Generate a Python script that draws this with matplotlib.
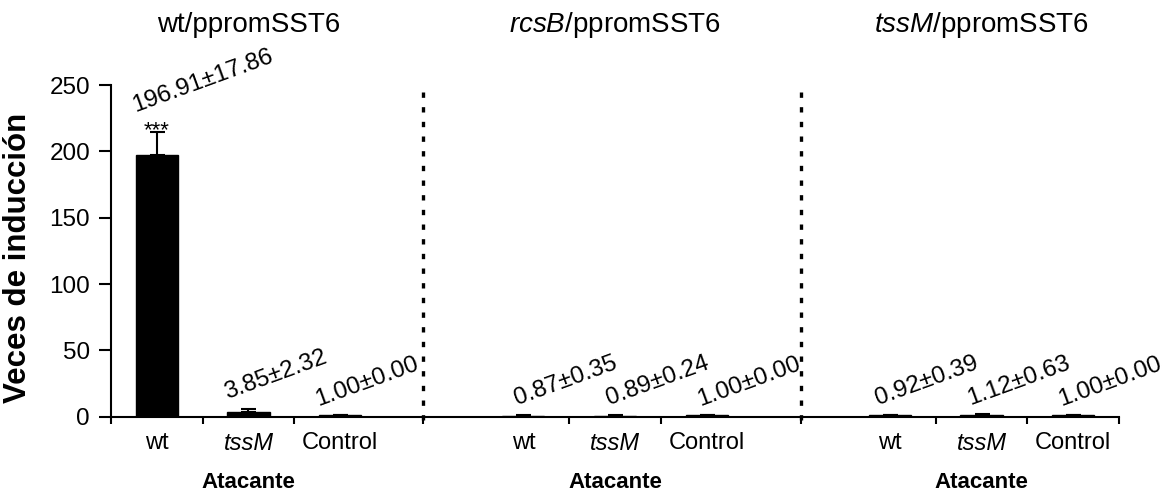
import matplotlib
matplotlib.use("Agg")
import matplotlib.pyplot as plt

plt.rcParams['font.family'] = ['Liberation Sans', 'DejaVu Sans']
plt.rcParams['mathtext.fontset'] = 'custom'
plt.rcParams['mathtext.rm'] = 'Liberation Sans'
plt.rcParams['mathtext.it'] = 'Liberation Sans:italic'

# ---- data ----
panel_titles = [r"wt/ppromSST6", r"$\it{rcsB}$/ppromSST6", r"$\it{tssM}$/ppromSST6"]
attackers = ["wt", "tssM", "Control"]
means = [196.91, 3.85, 1.00, 0.87, 0.89, 1.00, 0.92, 1.12, 1.00]
sems = [17.86, 2.32, 0.00, 0.35, 0.24, 0.00, 0.39, 0.63, 0.00]
signif = ["***", "", "", "", "", "", "", "", ""]
y_ticks = [0, 50, 100, 150, 200, 250]
y_label = "Veces de inducción"
x_label = "Atacante"

# ---- layout ----
group_starts = [0, 4, 8]
group_bounds = [3.4, 7.53]
label_dx_pt = [-15.5, -4.5, -8.5]   # per-panel offset of value labels (points)
W, H, DPI = 1170, 492, 100

fig = plt.figure(figsize=(W / DPI, H / DPI), dpi=DPI)
ax = fig.add_axes([111 / W, (H - 416.7) / H, 1008 / W, 331.7 / H])

positions = []
for g in group_starts:
    for i in range(len(attackers)):
        positions.append(g + i + 0.5)

lower = [0] * len(means)
ax.bar(positions, means, width=0.46, color='black', edgecolor='black', zorder=3)
ax.errorbar(positions, means, yerr=[lower, sems], fmt='none', ecolor='black',
            elinewidth=1.5, capsize=5.4, capthick=1.5, zorder=4)

for k, (x, m, s, st) in enumerate(zip(positions, means, sems, signif)):
    top = m + s
    panel = k // len(attackers)
    dy = 7
    if st:
        ax.annotate(st, (x, top), xytext=(0, -3), textcoords='offset points',
                    ha='center', va='baseline', fontsize=16, annotation_clip=False)
        dy = 14
    ax.annotate(f"{m:.2f}±{s:.2f}", (x, top), xytext=(label_dx_pt[panel], dy),
                textcoords='offset points', ha='left', va='baseline',
                rotation=20, rotation_mode='anchor', fontsize=17.5,
                annotation_clip=False)

# dotted separators
for b in group_bounds:
    ax.plot([b, b], [245, -4], color='black', lw=2.4, linestyle=(0, (1.6, 2.8)),
            clip_on=False, zorder=2)

ax.set_xlim(0, 11)
ax.set_ylim(0, 250)
for sp in ['top', 'right']:
    ax.spines[sp].set_visible(False)
for sp in ['left', 'bottom']:
    ax.spines[sp].set_linewidth(1.5)

ax.set_yticks(y_ticks)
ax.tick_params(axis='y', direction='out', length=8.6, width=1.5, pad=6.5,
               labelsize=17.5)

major_x = [0, 1, 2] + [group_bounds[0], 5, 6] + [group_bounds[1], 9, 10] + [11]
ax.set_xticks(major_x)
ax.set_xticklabels([])
ax.tick_params(axis='x', which='major', direction='out', length=5, width=1.5)
ax.set_xticks(positions, minor=True)
ax.set_xticklabels(attackers * len(group_starts), minor=True)
ax.tick_params(axis='x', which='minor', length=0, pad=11, labelsize=17)
for t in ax.get_xticklabels(minor=True):
    if t.get_text() == "tssM":
        t.set_fontstyle('italic')

ax.set_ylabel(y_label, fontsize=22.5, fontweight='bold')
ax.yaxis.set_label_coords(-0.077, 0.48)

for g, title in zip(group_starts, panel_titles):
    ax.text(g + 1.5, 290, title, ha='center', va='baseline', fontsize=20,
            clip_on=False)
    ax.text(g + 1.5, -53.7, x_label, ha='center', va='baseline', fontsize=16,
            fontweight='bold', clip_on=False)

fig.savefig("out.png", dpi=DPI)
